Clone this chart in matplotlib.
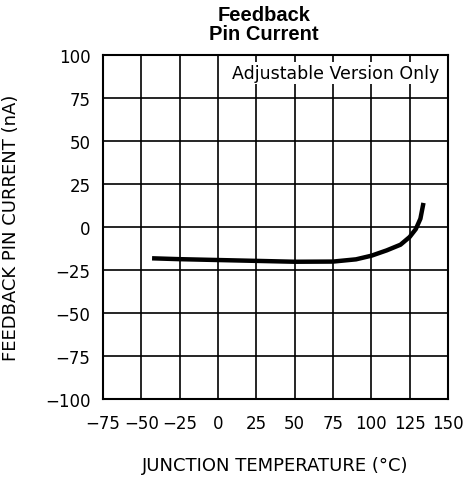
import matplotlib.pyplot as plt

temp = [-43, -25, 0, 25, 50, 75, 90, 100, 110, 119, 125, 129, 132, 134]
current = [-18.2, -18.7, -19.2, -19.7, -20.2, -20.1, -18.8, -16.7, -13.6, -10.3, -5.8, -1.2, 4.8, 14.0]

xticks = [-75, -50, -25, 0, 25, 50, 75, 100, 125, 150]
yticks = [-100, -75, -50, -25, 0, 25, 50, 75, 100]

fig = plt.figure(figsize=(4.66, 4.85), dpi=100)
ax = fig.add_axes([103 / 466, 85 / 485, 345 / 466, 344 / 485])

ax.plot(temp, current, color='black', lw=3.2, solid_capstyle='butt', zorder=3)

ax.set_xlim(-75, 150)
ax.set_ylim(-100, 100)
ax.set_xticks(xticks)
ax.set_yticks(yticks)
ax.tick_params(length=0, labelsize=12)
ax.tick_params(axis='x', pad=11)
ax.tick_params(axis='y', pad=9)
ax.set_xticklabels([str(t).replace('-', '\u2212') for t in xticks])
ax.set_yticklabels([str(t).replace('-', '\u2212') for t in yticks])
ax.grid(True, color='black', lw=1.2)
ax.set_axisbelow(True)
for s in ax.spines.values():
    s.set_linewidth(1.5)

ax.text(144, 89.5, 'Adjustable Version Only', ha='right', va='center', fontsize=12.5,
        bbox=dict(facecolor='white', edgecolor='none', pad=1.5), zorder=2)

ax.set_xlabel('JUNCTION TEMPERATURE (\u00b0C)', fontsize=13)
ax.set_ylabel('FEEDBACK PIN CURRENT (nA)', fontsize=13)
ax.xaxis.set_label_coords((275 - 103) / 345, (400 - 457) / 344)
ax.yaxis.set_label_coords((20 - 103) / 345, 0.5)

fig.text(264 / 466, 1 - 25 / 485, 'Feedback\nPin Current', ha='center', va='center',
         fontsize=14.5, fontweight='bold', family='Liberation Sans', linespacing=0.95)

fig.savefig('out.png', dpi=100)
